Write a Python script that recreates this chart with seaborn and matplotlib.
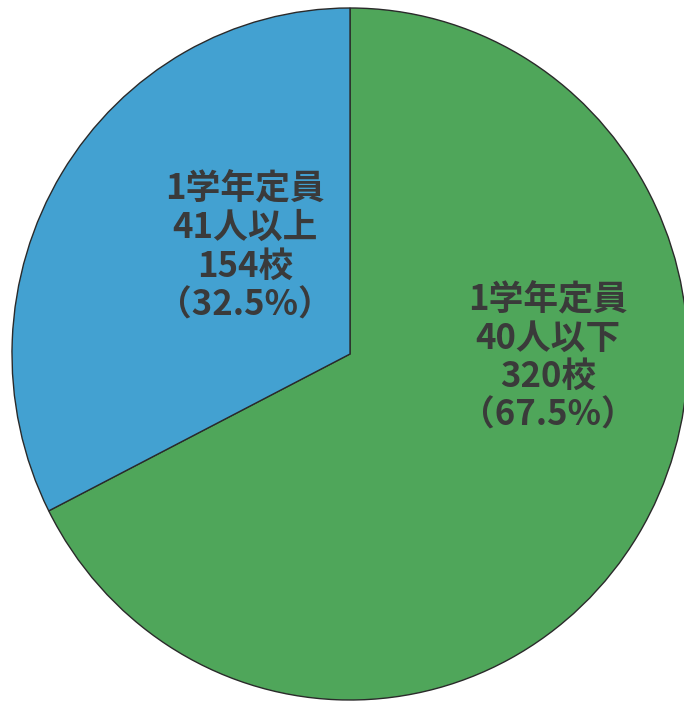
import matplotlib
matplotlib.use("Agg")
import matplotlib.pyplot as plt
import seaborn as sns

# 1学年定員別 学校数
categories = ["1学年定員\n40人以下", "1学年定員\n41人以上"]
counts = [320, 154]
shares = ["67.5%", "32.5%"]
colors = ["#4fa65a", "#43a1d1"]

sns.set_theme(style="white")
plt.rcParams['font.family'] = ['Noto Sans CJK JP', 'DejaVu Sans']

fig = plt.figure(figsize=(6.84, 7.02), dpi=100)
ax = fig.add_axes([0, 0, 1, 1])

wedges, _ = ax.pie(counts, colors=colors, startangle=90, counterclock=False,
                   wedgeprops=dict(edgecolor="#2a2a2a", linewidth=1.0))
ax.set_aspect('auto')
ax.set_xlim(-350 / 338, (684 - 350) / 338)
ax.set_ylim(-(702 - 354) / 346, 354 / 346)
ax.axis('off')

label_pos = [(0.585, -0.01), (-0.31, 0.31)]
for cat, n, s, (x, y) in zip(categories, counts, shares, label_pos):
    txt = f"{cat}\n{n}校\n（{s}）"
    ax.text(x, y, txt, ha='center', va='center', fontsize=25,
            fontweight='bold', color='#3a3a3a', linespacing=1.13)

fig.savefig("out.png", dpi=100)
